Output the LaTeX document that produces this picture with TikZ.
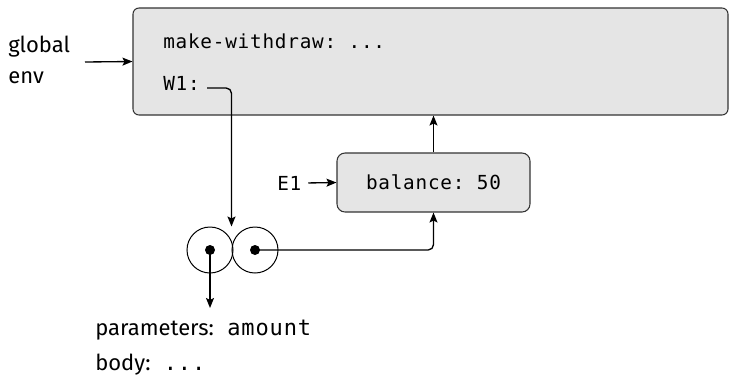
\documentclass[tikz,border=0pt]{standalone}
\usepackage{fontspec}
\setmainfont{Fira Sans}
\setmonofont[LetterSpace=4]{DejaVu Sans Mono}
\usetikzlibrary{arrows.meta}
\tikzset{
  frame/.style={draw=black!80, fill=black!10, line width=0.8pt},
  arr/.style={-{Stealth[length=7.5pt,width=6pt,inset=1.5pt]}, line width=1pt},
  sanstxt/.style={font=\fontsize{16.5}{20}\selectfont, inner sep=0pt},
  monotxt/.style={font=\fontsize{14.5}{18}\selectfont\ttfamily, inner sep=0pt},
  cell/.style={circle, draw, line width=0.75pt, minimum size=34.5pt, inner sep=0pt},
  dot/.style={circle, fill, minimum size=7.5pt, inner sep=0pt},
}
\begin{document}
\begin{tikzpicture}[x=0.75pt,y=-0.75pt]
\useasboundingbox (0,0) rectangle (729,383);
% frames
\node[frame, rounded corners=4.5pt, minimum width=446.25pt, minimum height=80.25pt] (glob) at (430.5,61.5) {};
\node[frame, rounded corners=6pt, minimum width=144.75pt, minimum height=44.25pt, monotxt] (e1) at (433.5,182.5) {balance: 50};
% texts
\node[monotxt, anchor=base west] (mw) at (163,48) {make-withdraw: ...};
\node[monotxt, anchor=base west] (w1) at (163,90) {W1:};
\node[sanstxt, anchor=base west] (g1) at (8,52) {global};
\node[sanstxt, anchor=base west] (g2) at (8,83) {env};
\node[monotxt, anchor=base west] (e1lab) at (277,190) {E1};
\node[sanstxt, anchor=base west] (par) at (95,335) {parameters:\hspace{10pt}\texttt{amount}};
\node[sanstxt, anchor=base west] (bod) at (95,370) {body:\hspace{10pt}\texttt{...}};
% cells
\node[cell] (c1) at (210,250) {};
\node[cell] (c2) at (255,250) {};
\node[dot] (d1) at (c1.center) {};
\node[dot] (d2) at (c2.center) {};
% connectors
\coordinate (gstart) at (85,62);
\coordinate (w1p) at (207,88);
\coordinate (pend) at (210,308);
\draw[arr] (gstart) -- (glob.west);
\draw[arr, rounded corners=4pt] (w1p) -| (c1.north -| c2.west);
\draw[arr, rounded corners=4pt] (d2.center) -| (e1.south);
\draw[arr] (d1.center) -- (pend);
\draw[arr] ([xshift=5pt]e1lab.east) -- (e1.west);
\draw[arr] (e1.north) -- (e1.north |- glob.south);
\end{tikzpicture}
\end{document}
